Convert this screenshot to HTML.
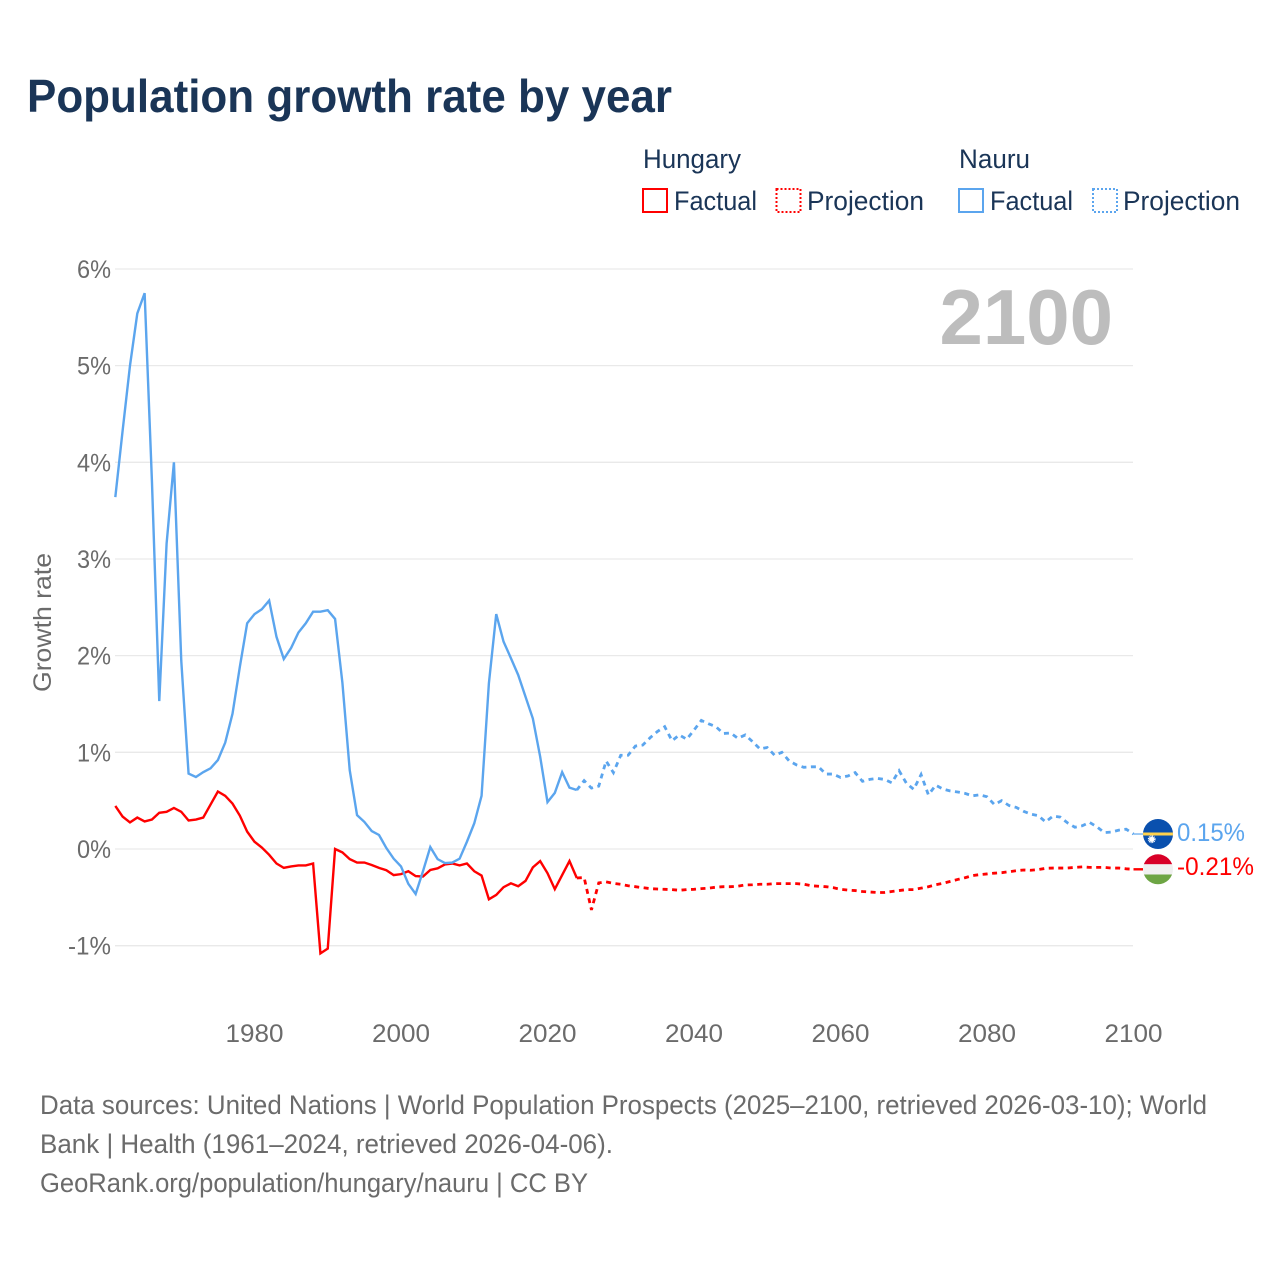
<!DOCTYPE html>
<html lang="en">
<head>
<meta charset="utf-8">
<title>Population growth rate by year</title>
<style>
html,body{margin:0;padding:0;background:#fff;}
svg{display:block;font-family:"Liberation Sans",sans-serif;}
</style>
</head>
<body>
<svg id="chart" width="1280" height="1280" viewBox="0 0 1280 1280" xmlns="http://www.w3.org/2000/svg">
  <defs>
    <clipPath id="flag-clip-nauru"><circle cx="1158" cy="834" r="15"/></clipPath>
    <clipPath id="flag-clip-hungary"><circle cx="1158" cy="869.3" r="15"/></clipPath>
  </defs>
  <rect width="1280" height="1280" fill="#ffffff"/>

  <text x="27" y="112" font-size="46" font-weight="700" fill="#1a3557" textLength="645" lengthAdjust="spacingAndGlyphs">Population growth rate by year</text>

  <g font-size="26.5" fill="#1a3557">
    <text x="643" y="168" textLength="98" lengthAdjust="spacingAndGlyphs">Hungary</text>
    <rect x="643" y="189" width="24" height="23" fill="none" stroke="#ff0000" stroke-width="2"/>
    <text x="674" y="210" textLength="83" lengthAdjust="spacingAndGlyphs">Factual</text>
    <rect x="776.5" y="189" width="24" height="23" fill="none" stroke="#ff0000" stroke-width="2" stroke-dasharray="2 2"/>
    <text x="807" y="210" textLength="117" lengthAdjust="spacingAndGlyphs">Projection</text>
    <text x="959" y="168" textLength="71" lengthAdjust="spacingAndGlyphs">Nauru</text>
    <rect x="959" y="189" width="24" height="23" fill="none" stroke="#5ba5ee" stroke-width="2"/>
    <text x="990" y="210" textLength="83" lengthAdjust="spacingAndGlyphs">Factual</text>
    <rect x="1093" y="189" width="24" height="23" fill="none" stroke="#5ba5ee" stroke-width="2" stroke-dasharray="2 2"/>
    <text x="1123" y="210" textLength="117" lengthAdjust="spacingAndGlyphs">Projection</text>
  </g>

  <g id="grid"></g>
  <g id="y-ticks"></g>
  <g id="x-ticks"></g>

  <text transform="translate(51 622.5) rotate(-90)" text-anchor="middle" font-size="25" fill="#6b6b6b" textLength="139" lengthAdjust="spacingAndGlyphs">Growth rate</text>

  <text id="year-label" x="1113" y="344" text-anchor="end" font-size="78" font-weight="700" fill="#bdbdbd">2100</text>

  <g id="series"></g>

  <g clip-path="url(#flag-clip-nauru)">
    <rect x="1143" y="819" width="30" height="30" fill="#0a50ae"/>
    <rect x="1143" y="832.5" width="30" height="3" fill="#ffd24d"/>
    <circle cx="1151.7" cy="839.3" r="2.6" fill="#ffffff"/>
    <circle cx="1151.7" cy="839.3" r="3.2" fill="none" stroke="#ffffff" stroke-width="1.4" stroke-dasharray="1 0.68"/>
  </g>
  <g clip-path="url(#flag-clip-hungary)">
    <rect x="1143" y="854" width="30" height="10.3" fill="#d80027"/>
    <rect x="1143" y="864.3" width="30" height="10.2" fill="#f0f0f0"/>
    <rect x="1143" y="874.5" width="30" height="10" fill="#6da544"/>
  </g>
  <text id="value-nauru" x="1177" y="841" font-size="25" fill="#5ba5ee" textLength="68" lengthAdjust="spacingAndGlyphs">0.15%</text>
  <text id="value-hungary" x="1177" y="875" font-size="25" fill="#ff0000" textLength="77" lengthAdjust="spacingAndGlyphs">-0.21%</text>

  <g font-size="27" fill="#6b6b6b">
    <text x="40" y="1114" textLength="1167" lengthAdjust="spacingAndGlyphs">Data sources: United Nations | World Population Prospects (2025–2100, retrieved 2026-03-10); World</text>
    <text x="40" y="1153" textLength="573" lengthAdjust="spacingAndGlyphs">Bank | Health (1961–2024, retrieved 2026-04-06).</text>
    <text x="40" y="1192" textLength="548" lengthAdjust="spacingAndGlyphs">GeoRank.org/population/hungary/nauru | CC BY</text>
  </g>
</svg>

<script>
var yTickValues = [-1, 0, 1, 2, 3, 4, 5, 6];
var xTickValues = [1980, 2000, 2020, 2040, 2060, 2080, 2100];

var factualStartYear = 1961;
var projectionStartYear = 2024;

var hungaryFactual = [
  0.445, 0.335, 0.275, 0.325, 0.285, 0.305, 0.375, 0.385, 0.425, 0.385,
  0.295, 0.305, 0.325, 0.46, 0.595, 0.55, 0.47, 0.345, 0.18, 0.075,
  0.015, -0.06, -0.15, -0.195, -0.18, -0.17, -0.17, -0.15, -1.08, -1.03,
  0.0, -0.035, -0.105, -0.14, -0.14, -0.165, -0.195, -0.22, -0.27, -0.26,
  -0.23, -0.28, -0.285, -0.217, -0.2, -0.16, -0.15, -0.17, -0.15, -0.23,
  -0.275, -0.52, -0.475, -0.395, -0.355, -0.385, -0.33, -0.19, -0.125, -0.25,
  -0.415, -0.27, -0.125, -0.30
];
var hungaryProjection = [
  -0.30, -0.295, -0.63, -0.35, -0.34, -0.355, -0.365, -0.38, -0.39, -0.40,
  -0.41, -0.414, -0.417, -0.42, -0.427, -0.42, -0.417, -0.41, -0.405, -0.395,
  -0.39, -0.39, -0.385, -0.372, -0.37, -0.365, -0.365, -0.358, -0.358, -0.358,
  -0.358, -0.365, -0.38, -0.385, -0.39, -0.40, -0.417, -0.425, -0.43, -0.44,
  -0.445, -0.45, -0.45, -0.44, -0.43, -0.42, -0.42, -0.405, -0.39, -0.37,
  -0.355, -0.335, -0.315, -0.297, -0.275, -0.265, -0.258, -0.25, -0.245, -0.235,
  -0.225, -0.217, -0.22, -0.213, -0.2, -0.197, -0.197, -0.197, -0.19, -0.185,
  -0.19, -0.19, -0.19, -0.197, -0.197, -0.205, -0.21
];
var nauruFactual = [
  3.64, 4.33, 5.0, 5.54, 5.75, 3.8, 1.53, 3.16, 4.0, 1.95,
  0.78, 0.745, 0.795, 0.835, 0.92, 1.10, 1.40, 1.885, 2.335, 2.43,
  2.48, 2.57, 2.195, 1.965, 2.08, 2.24, 2.335, 2.455, 2.455, 2.47,
  2.38, 1.72, 0.815, 0.35, 0.28, 0.186, 0.145, 0.01, -0.10, -0.18,
  -0.36, -0.465, -0.23, 0.02, -0.105, -0.145, -0.14, -0.10, 0.075, 0.265,
  0.55, 1.715, 2.43, 2.145, 1.975, 1.80, 1.575, 1.35, 0.955, 0.485,
  0.58, 0.795, 0.635, 0.61
];
var nauruProjection = [
  0.61, 0.707, 0.63, 0.65, 0.91, 0.79, 0.97, 0.97, 1.065, 1.075,
  1.15, 1.215, 1.265, 1.12, 1.18, 1.135, 1.23, 1.33, 1.295, 1.265,
  1.195, 1.20, 1.145, 1.18, 1.11, 1.035, 1.05, 0.97, 1.0, 0.91,
  0.87, 0.845, 0.85, 0.85, 0.775, 0.775, 0.74, 0.755, 0.79, 0.70,
  0.72, 0.73, 0.72, 0.685, 0.81, 0.68, 0.617, 0.77, 0.56, 0.66,
  0.62, 0.60, 0.59, 0.575, 0.55, 0.56, 0.54, 0.46, 0.50, 0.45,
  0.43, 0.39, 0.36, 0.345, 0.28, 0.34, 0.33, 0.27, 0.225, 0.24,
  0.275, 0.23, 0.17, 0.175, 0.195, 0.205, 0.155
];

var SVG_NS = 'http://www.w3.org/2000/svg';
var RED = '#ff0000';
var BLUE = '#5ba5ee';

function xScale(year) { return 1133.5 + (year - 2100) * 7.325; }
function yScale(value) { return 849 - value * 96.67; }

function linePath(values, startYear) {
  return values.map(function (v, i) {
    return (i === 0 ? 'M' : 'L') + xScale(startYear + i).toFixed(2) + ' ' + yScale(v).toFixed(2);
  }).join(' ');
}

var gridGroup = document.getElementById('grid');
var yTickGroup = document.getElementById('y-ticks');
var xTickGroup = document.getElementById('x-ticks');
var seriesGroup = document.getElementById('series');

yTickValues.forEach(function (t) {
  var line = document.createElementNS(SVG_NS, 'line');
  
  
  line.setAttribute('x1', 115);
  line.setAttribute('x2', 1133);
  line.setAttribute('y1', yScale(t));
  line.setAttribute('y2', yScale(t));
  line.setAttribute('stroke', '#e9e9e9');
  line.setAttribute('stroke-width', 1.3);
  gridGroup.appendChild(line);

  var label = document.createElementNS(SVG_NS, 'text');
  
  
  label.setAttribute('x', 111);
  label.setAttribute('y', yScale(t) + 9);
  label.setAttribute('text-anchor', 'end');
  label.setAttribute('font-size', 25);
  label.setAttribute('fill', '#6b6b6b');
  label.setAttribute('textLength', t < 0 ? 43 : 34);
  label.setAttribute('lengthAdjust', 'spacingAndGlyphs');
  label.textContent = t + '%';
  yTickGroup.appendChild(label);
});

xTickValues.forEach(function (t) {
  var label = document.createElementNS(SVG_NS, 'text');
  
  
  label.setAttribute('x', xScale(t));
  label.setAttribute('y', 1042);
  label.setAttribute('text-anchor', 'middle');
  label.setAttribute('font-size', 25);
  label.setAttribute('fill', '#6b6b6b');
  label.setAttribute('textLength', 58);
  label.setAttribute('lengthAdjust', 'spacingAndGlyphs');
  label.textContent = String(t);
  xTickGroup.appendChild(label);
});

function addSeries(name, values, startYear, color, dashed) {
  var path = document.createElementNS(SVG_NS, 'path');
  
  
  path.setAttribute('d', linePath(values, startYear));
  path.setAttribute('fill', 'none');
  path.setAttribute('stroke', color);
  path.setAttribute('stroke-width', dashed ? 2.8 : 2.4);
  path.setAttribute('stroke-linejoin', 'miter');
  if (dashed) { path.setAttribute('stroke-dasharray', '5 4.5'); }
  seriesGroup.appendChild(path);
}

function addLeader(name, value, color, width) {
  var line = document.createElementNS(SVG_NS, 'line');
  
  
  line.setAttribute('x1', xScale(2100));
  line.setAttribute('x2', 1143);
  line.setAttribute('y1', yScale(value));
  line.setAttribute('y2', yScale(value));
  line.setAttribute('stroke', color);
  line.setAttribute('stroke-width', width);
  seriesGroup.appendChild(line);
}

addSeries('series-hungary-projection', hungaryProjection, projectionStartYear, RED, true);
addSeries('series-hungary-factual', hungaryFactual, factualStartYear, RED, false);
addSeries('series-nauru-projection', nauruProjection, projectionStartYear, BLUE, true);
addSeries('series-nauru-factual', nauruFactual, factualStartYear, BLUE, false);
addLeader('leader-hungary', hungaryProjection[hungaryProjection.length - 1], RED, 2.4);
addLeader('leader-nauru', nauruProjection[nauruProjection.length - 1], BLUE, 1.2);
</script>
</body>
</html>
